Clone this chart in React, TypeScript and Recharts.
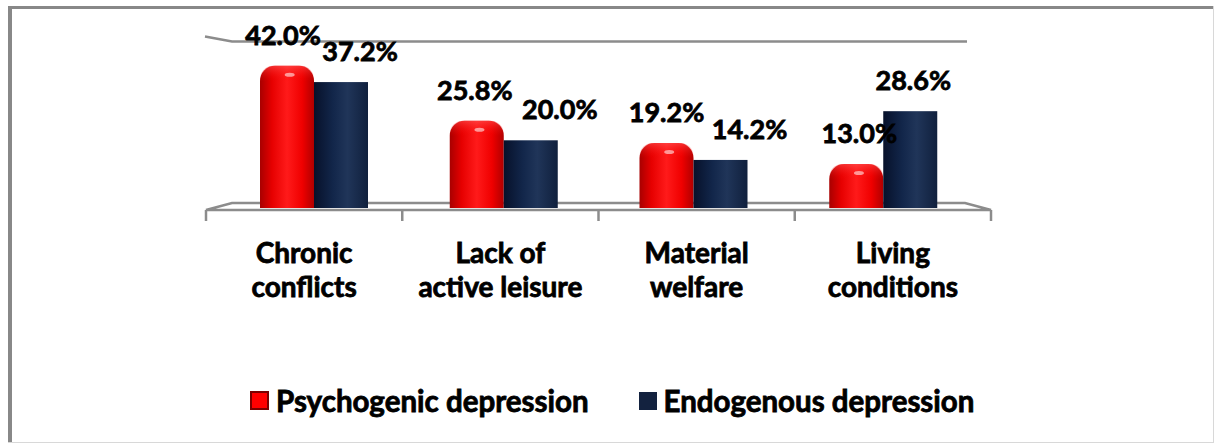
import { BarChart, Bar, XAxis, YAxis, ReferenceLine, LabelList, Rectangle } from 'recharts'

const CATEGORIES = ['Chronic\nconflicts', 'Lack of\nactive leisure', 'Material\nwelfare', 'Living\nconditions']
const PSYCHOGENIC = [42.0, 25.8, 19.2, 13.0]
const ENDOGENOUS = [37.2, 20.0, 14.2, 28.6]
const SERIES_NAMES = ['Psychogenic depression', 'Endogenous depression']

const data = CATEGORIES.map((name, i) => ({
  name,
  psychogenic: PSYCHOGENIC[i],
  endogenous: ENDOGENOUS[i],
}))

// layout
const W = 1214
const H = 443
const PLOT_LEFT = 219
const PLOT_RIGHT = 978
const BASE_Y = 208
const Y_MAX = 48
const PX_PER_UNIT = 3.385
const XAXIS_H = 60
const DEPTH = 13 // half of the 3d floor depth, px
const FONT = 'Lato, "Open Sans", sans-serif'
const WEIGHT = 700
const GRID = '#8c8c8c'

// small label nudges so the value texts sit like in the original
const PSY_DX = [-4, -2, 0, 3]
const ENDO_DX = [19, 29, 29, 3]

const fmt = (v: number) => `${v.toFixed(1)}%`

function Floor(props: any) {
  const { x1, x2, y1 } = props
  const fl = x1 - DEPTH, fr = x2 + DEPTH
  const bl = x1 + DEPTH, br = x2 - DEPTH
  const fy = y1 + 2, by = y1 - 5
  const step = (fr - fl) / CATEGORIES.length
  const ticks = CATEGORIES.map((_, i) => fl + i * step).concat([fr])
  return (
    <g stroke={GRID} strokeWidth={2.5} fill="none">
      <path d={`M${fl},${fy} L${bl},${by} L${br},${by} L${fr},${fy} Z`} />
      {ticks.map((t, i) => (
        <line key={i} x1={t} x2={t} y1={fy} y2={fy + 11} />
      ))}
    </g>
  )
}

function TopLine(props: any) {
  const { x1, x2, y1 } = props
  const y = y1 - 4
  return (
    <path
      d={`M${x1 - DEPTH - 1},${y - 5} L${x1 + DEPTH},${y} L${x2 - DEPTH + 2},${y}`}
      stroke={GRID}
      strokeWidth={2.5}
      fill="none"
    />
  )
}

function RedBar(props: any) {
  const { x, y, width, height } = props
  return (
    <g>
      <Rectangle x={x} y={y} width={width} height={height} radius={[15, 15, 0, 0]} fill="url(#redGrad)" />
      <Rectangle x={x} y={y} width={width} height={Math.min(height, 26)} radius={[15, 15, 0, 0]} fill="url(#redCap)" />
      <ellipse cx={x + width * 0.55} cy={y + 9} rx={5} ry={2} fill="#ffffff" opacity={0.55} />
    </g>
  )
}

function BlueBar(props: any) {
  const { x, y, width, height } = props
  return <rect x={x} y={y} width={width} height={height} fill="url(#blueGrad)" />
}

function makeLabel(offsets: number[]) {
  return (props: any) => {
    const { x, y, width, value, index } = props
    return (
      <text
        x={x + width / 2 + offsets[index]}
        y={y - 21}
        textAnchor="middle"
        fontFamily={FONT}
        fontWeight={WEIGHT}
        fontSize={27}
        fill="#000"
        stroke="#000"
        strokeWidth={0.8}
      >
        {fmt(value)}
      </text>
    )
  }
}

function CategoryTick(props: any) {
  const { x, y, payload } = props
  const center = (PLOT_LEFT + PLOT_RIGHT) / 2
  const cx = center + (x - center) * ((PLOT_RIGHT - PLOT_LEFT + 2 * DEPTH) / (PLOT_RIGHT - PLOT_LEFT))
  const lines = String(payload.value).split('\n')
  return (
    <text
      x={cx}
      y={y}
      textAnchor="middle"
      fontFamily={FONT}
      fontWeight={WEIGHT}
      fontSize={28}
      fill="#000"
      stroke="#000"
      strokeWidth={0.8}
    >
      {lines.map((l, i) => (
        <tspan key={i} x={cx} y={y + 55 + i * 34}>{l}</tspan>
      ))}
    </text>
  )
}

function LegendItem({ label, swatch }: { label: string; swatch: React.ReactNode }) {
  return (
    <div style={{ display: 'flex', alignItems: 'center' }}>
      {swatch}
      <span
        style={{
          marginLeft: 7,
          fontFamily: FONT,
          fontWeight: WEIGHT,
          fontSize: 29.5,
          color: '#000',
          WebkitTextStroke: '0.8px #000',
        }}
      >
        {label}
      </span>
    </div>
  )
}

export default function App() {
  const top = BASE_Y - Y_MAX * PX_PER_UNIT
  return (
    <div style={{ position: 'absolute', left: 0, top: 0, width: W, height: H, background: '#fff', overflow: 'hidden' }}>
      <div style={{ position: 'absolute', left: 8, top: 6, width: 4, height: H - 6, background: '#888' }} />
      <div style={{ position: 'absolute', left: 8, top: 6, width: W - 8, height: 3, background: '#888' }} />
      <div style={{ position: 'absolute', left: W - 1, top: 6, width: 1, height: H - 6, background: '#d8d8d8' }} />
      <div style={{ position: 'absolute', left: 8, top: H - 1, width: W - 8, height: 1, background: '#d8d8d8' }} />

      <div style={{ position: 'absolute', left: 0, top: 0 }}>
        <BarChart
          width={W}
          height={H}
          data={data}
          margin={{ top, right: W - PLOT_RIGHT, bottom: H - BASE_Y - XAXIS_H, left: PLOT_LEFT }}
          barSize={54}
          barGap={0}
        >
          <defs>
            <linearGradient id="redGrad" x1="0" y1="0" x2="1" y2="0">
              <stop offset="0%" stopColor="#a80000" />
              <stop offset="22%" stopColor="#e60000" />
              <stop offset="50%" stopColor="#ff1a1a" />
              <stop offset="78%" stopColor="#f00000" />
              <stop offset="100%" stopColor="#b00000" />
            </linearGradient>
            <linearGradient id="redCap" x1="0" y1="0" x2="0" y2="1">
              <stop offset="0%" stopColor="#ff6060" stopOpacity={0.5} />
              <stop offset="60%" stopColor="#ff0000" stopOpacity={0} />
              <stop offset="100%" stopColor="#ff0000" stopOpacity={0} />
            </linearGradient>
            <linearGradient id="blueGrad" x1="0" y1="0" x2="1" y2="0">
              <stop offset="0%" stopColor="#07112a" />
              <stop offset="35%" stopColor="#12264a" />
              <stop offset="62%" stopColor="#203559" />
              <stop offset="100%" stopColor="#10203d" />
            </linearGradient>
          </defs>
          <XAxis
            dataKey="name"
            height={XAXIS_H}
            axisLine={false}
            tickLine={false}
            tickSize={0}
            tickMargin={0}
            interval={0}
            tick={<CategoryTick />}
          />
          <YAxis hide domain={[0, Y_MAX]} />
          <ReferenceLine y={0} shape={<Floor />} ifOverflow="visible" zIndex={-10} />
          <ReferenceLine y={Y_MAX} shape={<TopLine />} ifOverflow="visible" zIndex={-10} />
          <Bar dataKey="psychogenic" name={SERIES_NAMES[0]} shape={<RedBar />} isAnimationActive={false}>
            <LabelList dataKey="psychogenic" content={makeLabel(PSY_DX)} />
          </Bar>
          <Bar dataKey="endogenous" name={SERIES_NAMES[1]} shape={<BlueBar />} isAnimationActive={false}>
            <LabelList dataKey="endogenous" content={makeLabel(ENDO_DX)} />
          </Bar>
        </BarChart>
      </div>

      <div style={{ position: 'absolute', left: 250, top: 383, display: 'flex', gap: 50 }}>
        <LegendItem
          label={SERIES_NAMES[0]}
          swatch={<div style={{ width: 15, height: 15, background: '#ff0000', border: '2px solid #7a0000' }} />}
        />
        <LegendItem
          label={SERIES_NAMES[1]}
          swatch={<div style={{ width: 18, height: 18, background: '#13223f' }} />}
        />
      </div>
    </div>
  )
}
